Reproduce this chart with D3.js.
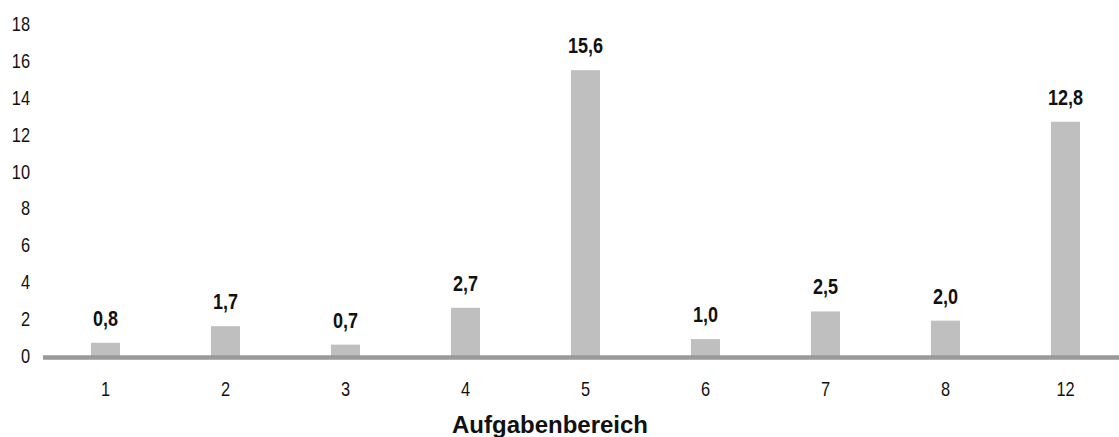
<!DOCTYPE html>
<html>
<head>
<meta charset="utf-8">
<script src="https://cdn.jsdelivr.net/npm/d3@7"></script>
<style>
  html, body { margin: 0; padding: 0; background: #fff; }
  svg { display: block; }
</style>
</head>
<body>
<svg id="chart" width="1119" height="437"></svg>
<script>
// Werte je Aufgabenbereich
const categories = ["1", "2", "3", "4", "5", "6", "7", "8", "12"];
const values = [0.8, 1.7, 0.7, 2.7, 15.6, 1.0, 2.5, 2.0, 12.8];
const yTicks = [0, 2, 4, 6, 8, 10, 12, 14, 16, 18];
const axisTitle = "Aufgabenbereich";

// schmale Schrift: Liberation Sans horizontal gestaucht
const sans = "'Liberation Sans', Arial, sans-serif";
const narrowScale = 0.82;
const svg = d3.select("#chart");

const x = d3.scaleBand().domain(categories).range([45.5, 1125.5]).paddingInner(0.758).paddingOuter(0.379);
const y = d3.scaleLinear().domain([0, 18]).range([357.5, 26]);

const fmt = v => d3.format(".1f")(v).replace(".", ",");

// y-Achse (nur Beschriftung)
svg.append("g")
  .selectAll("text")
  .data(yTicks)
  .join("text")
  .attr("transform", d => `translate(30,${y(d) - 2}) scale(${narrowScale},1)`)
  .attr("dy", "0.36em")
  .attr("text-anchor", "end")
  .style("font-family", sans)
  .style("font-size", "20px")
  .style("fill", "#111")
  .text(d => d);

// Balken
svg.append("g")
  .selectAll("rect")
  .data(values)
  .join("rect")
  .attr("x", (d, i) => x(categories[i]))
  .attr("width", x.bandwidth())
  .attr("y", d => y(d))
  .attr("height", d => y(0) - y(d))
  .attr("fill", "#bfbfbf");

// Nulllinie
svg.append("line")
  .attr("x1", 43).attr("x2", 1119)
  .attr("y1", y(0)).attr("y2", y(0))
  .attr("stroke", "#999")
  .attr("stroke-width", 4.5);

// Wertbeschriftungen
svg.append("g")
  .selectAll("text")
  .data(values)
  .join("text")
  .attr("transform", (d, i) => `translate(${x(categories[i]) + x.bandwidth() / 2},${y(d) - 17}) scale(${narrowScale},1)`)
  .attr("text-anchor", "middle")
  .style("font-family", sans)
  .style("font-size", "22px")
  .style("font-weight", "bold")
  .style("fill", "#111")
  .text(d => fmt(d));

// x-Achse Beschriftung
svg.append("g")
  .selectAll("text")
  .data(categories)
  .join("text")
  .attr("transform", d => `translate(${x(d) + x.bandwidth() / 2},395.5) scale(${narrowScale},1)`)
  .attr("text-anchor", "middle")
  .style("font-family", sans)
  .style("font-size", "20px")
  .style("fill", "#111")
  .text(d => d);

// Achsentitel
svg.append("text")
  .attr("x", 550)
  .attr("y", 433)
  .attr("text-anchor", "middle")
  .style("font-family", sans)
  .style("font-size", "24px")
  .style("font-weight", "bold")
  .style("fill", "#111")
  .text(axisTitle);
</script>
</body>
</html>
